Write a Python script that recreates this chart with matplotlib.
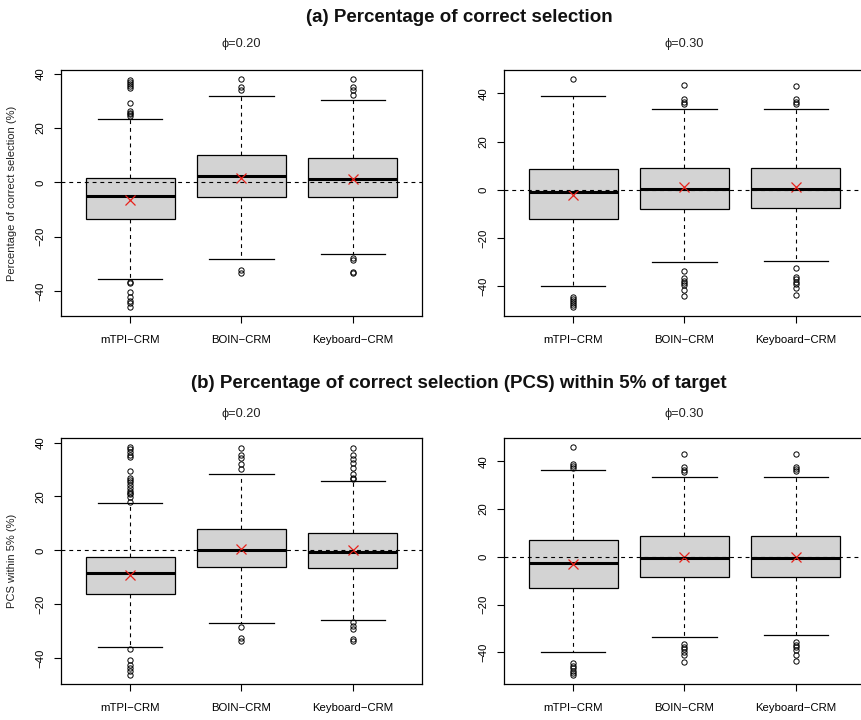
import matplotlib
matplotlib.use("Agg")
import matplotlib.pyplot as plt

plt.rcParams['font.family'] = ['Liberation Sans', 'DejaVu Sans']

methods = ["mTPI\u2212CRM", "BOIN\u2212CRM", "Keyboard\u2212CRM"]

# (a) percentage of correct selection, phi = 0.20
a20_q1 = [-13.3, -5.5, -5.5]
a20_med = [-5.0, 2.2, 1.1]
a20_q3 = [1.6, 10.0, 8.9]
a20_lo = [-35.5, -28.1, -26.4]
a20_hi = [23.4, 31.9, 30.4]
a20_mean = [-6.3, 1.7, 1.1]
a20_out = [
    [37.8, 37.0, 36.2, 35.4, 34.7, 29.1, 26.4, 25.6, 25.0, 24.4,
     -36.5, -36.9, -40.2, -42.2, -43.5, -44.4, -45.8],
    [38.0, 35.2, 34.0, -32.2, -33.2],
    [38.0, 35.2, 33.9, 32.2, -27.7, -28.6, -32.8, -33.5],
]

# (a) percentage of correct selection, phi = 0.30
a30_q1 = [-12.1, -7.9, -7.5]
a30_med = [-1.1, 0.4, 0.4]
a30_q3 = [8.6, 9.2, 9.2]
a30_lo = [-39.9, -29.8, -29.5]
a30_hi = [38.7, 33.3, 33.4]
a30_mean = [-2.1, 1.0, 1.0]
a30_out = [
    [45.9, -44.3, -45.2, -46.0, -46.9, -47.8, -48.6],
    [43.3, 37.6, 36.5, 35.6, -33.7, -36.8, -37.9, -38.8, -39.7, -41.5, -44.2],
    [42.9, 37.7, 36.6, 35.6, -32.6, -36.2, -37.2, -38.1, -39.0, -40.9, -43.7],
]

# (b) PCS within 5% of target, phi = 0.20
b20_q1 = [-16.0, -6.3, -6.5]
b20_med = [-8.2, 0.2, -0.5]
b20_q3 = [-2.5, 7.9, 6.4]
b20_lo = [-35.7, -27.0, -25.7]
b20_hi = [17.6, 28.5, 25.6]
b20_mean = [-9.2, 0.6, 0.2]
b20_out = [
    [38.3, 37.5, 36.5, 35.5, 34.6, 29.4, 26.7, 26.0, 25.2, 24.2, 23.2,
     22.1, 21.4, 20.8, 19.9, 18.1,
     -36.6, -40.5, -42.4, -43.7, -44.8, -46.1],
    [38.1, 35.5, 34.4, 32.2, 30.2, -28.3, -32.6, -33.4],
    [38.1, 35.5, 34.0, 32.4, 30.7, 28.5, 27.0, 26.4,
     -26.5, -28.0, -29.0, -32.9, -33.7],
]

# (b) PCS within 5% of target, phi = 0.30
b30_q1 = [-12.9, -8.5, -8.3]
b30_med = [-2.4, -0.7, -0.7]
b30_q3 = [7.0, 8.9, 8.8]
b30_lo = [-40.1, -33.8, -32.8]
b30_hi = [36.4, 33.4, 33.5]
b30_mean = [-3.1, 0.0, 0.1]
b30_out = [
    [46.0, 38.9, 38.1, 37.1, -44.5, -45.6, -46.7, -47.7, -48.8, -49.5],
    [43.3, 37.7, 36.4, 35.5, -36.6, -37.6, -38.7, -39.8, -41.2, -44.2],
    [43.0, 37.8, 36.9, 35.9, -35.9, -36.9, -38.0, -38.9, -41.0, -43.8],
]

panels = [
    (a20_q1, a20_med, a20_q3, a20_lo, a20_hi, a20_mean, a20_out),
    (a30_q1, a30_med, a30_q3, a30_lo, a30_hi, a30_mean, a30_out),
    (b20_q1, b20_med, b20_q3, b20_lo, b20_hi, b20_mean, b20_out),
    (b30_q1, b30_med, b30_q3, b30_lo, b30_hi, b30_mean, b30_out),
]
subtitles = ["\u03d5=0.20", "\u03d5=0.30", "\u03d5=0.20", "\u03d5=0.30"]
ylabels = ["Percentage of correct selection (%)", None, "PCS within 5% (%)", None]
row_titles = ["(a) Percentage of correct selection",
              "(b) Percentage of correct selection (PCS) within 5% of target"]

W, H = 862, 720
fig = plt.figure(figsize=(W / 100, H / 100), dpi=100)

ax_w, ax_h = 361 / W, 246 / H
lefts = [61 / W, 504 / W]
bottoms = [1 - 316 / H, 1 - 684 / H]

dash = (0, (3.5, 3.5))

for i, (q1, med, q3, lo, hi, mean, out) in enumerate(panels):
    r, c = divmod(i, 2)
    ax = fig.add_axes([lefts[c], bottoms[r], ax_w, ax_h])
    stats = []
    for k in range(3):
        stats.append(dict(q1=q1[k], med=med[k], q3=q3[k], whislo=lo[k],
                          whishi=hi[k], mean=mean[k], fliers=out[k]))
    ax.bxp(stats, positions=[1, 2, 3], widths=0.8, capwidths=0.58,
           patch_artist=True, showmeans=True,
           boxprops=dict(facecolor='#d3d3d3', edgecolor='black', linewidth=0.9),
           medianprops=dict(color='black', linewidth=2.2, solid_capstyle='butt'),
           whiskerprops=dict(color='black', linewidth=0.8, linestyle=dash),
           capprops=dict(color='black', linewidth=0.9),
           flierprops=dict(marker='o', markerfacecolor='none',
                           markeredgecolor='black', markersize=3.8,
                           markeredgewidth=0.7),
           meanprops=dict(marker='x', markeredgecolor='#e8211a',
                          markersize=7.5, markeredgewidth=0.9))
    ax.axhline(0, color='black', linewidth=0.8, linestyle=dash, zorder=5)

    allv = lo + hi + [v for grp in out for v in grp]
    vmin, vmax = min(allv), max(allv)
    ext = 0.04 * (vmax - vmin)
    ax.set_ylim(vmin - ext, vmax + ext)
    ax.set_xlim(0.38, 3.62)

    ax.set_xticks([1, 2, 3])
    ax.set_xticklabels(methods)
    ax.set_yticks([-40, -20, 0, 20, 40])
    ax.tick_params(axis='both', direction='out', length=5, width=0.8,
                   labelsize=8.2, colors='black')
    ax.tick_params(axis='x', pad=9)
    ax.tick_params(axis='y', pad=6)
    for lab in ax.get_yticklabels():
        lab.set_rotation(90)
        lab.set_va('center')
    for sp in ax.spines.values():
        sp.set_linewidth(0.9)
        sp.set_color('black')

    cx = lefts[c] + ax_w / 2
    sub_y = [1 - 44 / H, 1 - 414 / H][r]
    fig.text(cx, sub_y, subtitles[i], ha='center', va='center',
             fontsize=9.2, color='#222222')
    if ylabels[i]:
        fig.text(12 / W, bottoms[r] + ax_h / 2, ylabels[i], rotation=90,
                 ha='center', va='center', fontsize=8.0, color='#222222')

fig.text(459 / W, 1 - 17 / H, row_titles[0], ha='center', va='center',
         fontsize=13.5, fontweight='bold', color='#111111')
fig.text(459 / W, 1 - 384 / H, row_titles[1], ha='center', va='center',
         fontsize=13.5, fontweight='bold', color='#111111')

fig.savefig("out.png", dpi=100)
